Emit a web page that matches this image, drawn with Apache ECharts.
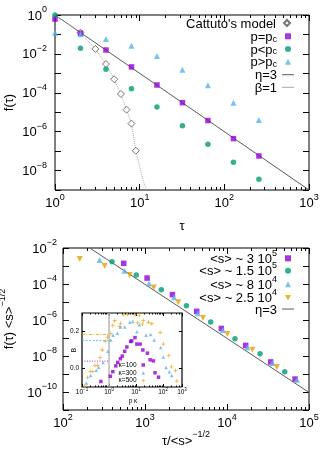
<!DOCTYPE html>
<html><head><meta charset="utf-8">
<script src="https://cdn.jsdelivr.net/npm/echarts@6.0.0/dist/echarts.min.js"></script>
<style>html,body{margin:0;padding:0;background:#fff;}#chart{width:332px;height:465px;}</style>
</head><body><div id="chart"></div>
<script>
// ---------------- DATA: top panel ----------------
const tauTop      = [1, 2, 4, 8, 16, 32, 64, 128, 256];
const fPcEqual    = [0.617, 0.115, 0.0158, 0.00214, 2.51e-4, 3.09e-5, 3.72e-6, 4.37e-7, 5.62e-8];
const fPcBelow    = [1.0, 0.0195, 0.00162, 1.62e-4, 1.86e-5, 2.04e-6, 2.24e-7, 2.69e-8, 3.55e-9];
const fPcAbove    = [0.123, 0.102, 0.0589, 0.0263, 0.00776, 0.00155, 2.45e-4, 3.09e-5, 3.98e-6];
const tauCattuto  = [2, 3, 4, 5, 6, 7, 8, 9];
const fCattuto    = [0.123, 0.018, 0.003, 5.0e-4, 8.7e-5, 1.35e-5, 2.6e-6, 1.05e-7];
const tauBeta     = [1, 2, 3, 4, 5, 6, 7, 8, 9, 10, 11, 12];
const fBeta       = [1, 0.12, 0.018, 0.003, 5.0e-4, 8.7e-5, 1.4e-5, 2.5e-6, 1.1e-7, 1.6e-8, 3.2e-9, 1.0e-9];
const tauEtaTop   = [1, 1000];
const fEtaTop     = [1, 1e-9];
// ---------------- DATA: bottom panel ----------------
const xS3e5   = [550, 1060, 2160, 4270, 8530, 16900, 34100, 67600];
const yS3e5   = [1.41e-3, 2.14e-4, 2.57e-5, 3.02e-6, 3.39e-7, 3.89e-8, 4.68e-9, 5.25e-10];
const xS15e5  = [396, 783, 1580, 3200, 6320, 12500, 25300, 50600];
const yS15e5  = [1.74e-3, 3.16e-4, 4.79e-5, 6.17e-6, 7.76e-7, 9.12e-8, 1.35e-8, 1.35e-9];
const xS8e4   = [280, 561, 1120, 2260, 4400, 8930, 17700, 35700, 71400];
const yS8e4   = [2.14e-3, 5.5e-4, 1.05e-4, 1.82e-5, 2.34e-6, 2.75e-7, 3.02e-8, 4.07e-9, 4.79e-10];
const xS25e4  = [160, 322, 650, 1280, 2550, 5090, 10100, 20400, 40400];
const yS25e4  = [2.45e-3, 1.0e-3, 3.16e-4, 6.46e-5, 9.55e-6, 1.29e-6, 1.66e-7, 2.24e-8, 2.45e-9];
const xEtaBot = [212, 1e5];
const yEtaBot = [1e-2, 9.5e-11];
// ---------------- DATA: inset ----------------
const pk100 = [0.5, 1.12, 1.38, 1.78, 2.09, 2.63, 3.09, 3.8, 4.57, 6.31, 6.92, 9.12, 10.7, 14.1, 17.8, 26.3, 33.1, 43.7, 50.1, 67.6];
const B100  = [-0.07, -0.042, -0.017, 0.014, 0.033, 0.053, 0.067, 0.093, 0.116, 0.146, 0.149, 0.167, 0.132, 0.132, 0.1, 0.083, 0.047, 0.041, -0.023, -0.047];
const pk300 = [0.145, 0.209, 0.339, 0.417, 0.603, 0.912, 1.15, 1.41, 2.04, 2.69, 3.8, 5.89, 7.59, 10.7, 13.2, 23.4, 34.7, 46.8, 81.3, 102, 129, 170, 209];
const B300  = [-0.079, -0.038, -0.009, 0.005, 0.032, 0.093, 0.154, 0.18, 0.19, 0.225, 0.225, 0.25, 0.254, 0.198, 0.237, 0.18, 0.184, 0.154, 0.114, 0.062, 0.005, -0.017, -0.038];
const pk500 = [0.126, 0.162, 0.2, 0.251, 0.302, 0.38, 0.468, 0.562, 0.724, 0.871, 1.17, 1.38, 1.62, 2.4, 2.69, 3.39, 4.9, 9.12, 11.2, 13.2, 17.0, 18.6, 28.8, 38.0, 77.6, 102, 162, 204, 288, 324];
const B500  = [-0.095, -0.049, -0.016, -0.016, 0.016, 0.017, 0.059, 0.1, 0.147, 0.17, 0.188, 0.232, 0.258, 0.226, 0.244, 0.29, 0.293, 0.29, 0.247, 0.288, 0.24, 0.26, 0.25, 0.242, 0.195, 0.132, 0.07, 0.009, -0.012, -0.068];
const levelPk = [0.1, 1];
const level100 = 0.04, level300 = 0.151, level500 = 0.184;
const vlinePk = [1, 1];
const vlineB  = [-0.1, 0.3];
// ---------------- ranges (decades) ----------------
const topXRange = [0, 3], topYRange = [-9, 0];
const botXRange = [2, 5], botYRange = [-11, -2];
const insXRange = [-1, Math.log10(500)], insYRange = [-0.1, 0.3];
const insYTicks = [0, 0.2];

// ---------------- helpers ----------------
const FONT = 'Liberation Sans, Arial, Helvetica, sans-serif';
const L = v => Math.log10(v);
const ID = v => v;
const pts = (xs, ys, fx = L, fy = L) => xs.map((x, i) => [fx(x), fy(ys[i])]);
const MINUS = '\u2212';
const expStr = e => (e < 0 ? MINUS + (-e) : String(e));

const richMain = {
  b: {fontSize: 13, fontFamily: FONT, color: '#000', lineHeight: 15, verticalAlign: 'bottom'},
  s: {fontSize: 9, fontFamily: FONT, color: '#000', lineHeight: 9, verticalAlign: 'bottom', padding: [0, 0, 8, 0]}
};
const richInset = {
  b: {fontSize: 6.5, fontFamily: FONT, color: '#000', lineHeight: 7, verticalAlign: 'bottom'},
  s: {fontSize: 4.5, fontFamily: FONT, color: '#000', lineHeight: 5, verticalAlign: 'bottom', padding: [0, 0, 3.5, 0]}
};
const richLegend = {
  m: {fontSize: 13, fontFamily: FONT, color: '#000', lineHeight: 15, verticalAlign: 'bottom'},
  sub: {fontSize: 9, fontFamily: FONT, color: '#000', lineHeight: 9, verticalAlign: 'bottom'},
  sup: {fontSize: 9, fontFamily: FONT, color: '#000', lineHeight: 9, verticalAlign: 'bottom', padding: [0, 0, 8, 0]},
  i: {fontSize: 6.5, fontFamily: FONT, color: '#000', lineHeight: 7}
};
function powLabel(v, evenOnly) {
  const e = Math.round(v);
  if (evenOnly && e % 2 !== 0) return '';
  return '{b|10}{s|' + expStr(e) + '}';
}
function minorList(r) {
  const out = [];
  for (let d = Math.floor(r[0]); d < Math.ceil(r[1]); d++)
    for (let k = 2; k <= 9; k++) { const v = d + Math.log10(k); if (v > r[0] + 1e-9 && v < r[1] - 1e-9) out.push(v); }
  return out;
}

const xAxes = [], yAxes = [];
function buildAxes(gi, xr, yr, o) {
  const ts = {color: '#000', width: 1};
  const bx = {gridIndex: gi, type: 'value', min: xr[0], max: xr[1], axisLine: {show: false, onZero: false}, splitLine: {show: false}};
  const by = {gridIndex: gi, type: 'value', min: yr[0], max: yr[1], axisLine: {show: false, onZero: false}, splitLine: {show: false}};
  const xi = xAxes.length;
  xAxes.push(Object.assign({}, bx, {position: 'bottom', interval: 1,
    axisTick: {inside: true, length: o.major, lineStyle: ts},
    axisLabel: {margin: o.xMargin, formatter: v => powLabel(v, false), rich: o.rich, showMinLabel: true, showMaxLabel: true}}));
  xAxes.push(Object.assign({}, bx, {position: 'top', interval: 1,
    axisTick: {inside: true, length: o.major, lineStyle: ts}, axisLabel: {show: false}}));
  const minors = minorList(xr);
  xAxes.push(Object.assign({}, bx, {position: 'bottom',
    axisTick: {inside: true, length: o.minor, lineStyle: ts, customValues: minors}, axisLabel: {show: false}}));
  xAxes.push(Object.assign({}, bx, {position: 'top',
    axisTick: {inside: true, length: o.minor, lineStyle: ts, customValues: minors}, axisLabel: {show: false}}));
  const yi = yAxes.length;
  if (o.yCustom) {
    yAxes.push(Object.assign({}, by, {position: 'left',
      axisTick: {inside: true, length: o.major, lineStyle: ts, customValues: o.yCustom},
      axisLabel: {margin: o.yMargin, customValues: o.yCustom, formatter: v => (Math.abs(v) < 1e-9 ? 0 : v).toFixed(1),
        fontSize: 6.5, fontFamily: FONT, color: '#000'}}));
    yAxes.push(Object.assign({}, by, {position: 'right',
      axisTick: {inside: true, length: o.major, lineStyle: ts, customValues: o.yCustom}, axisLabel: {show: false}}));
  } else {
    yAxes.push(Object.assign({}, by, {position: 'left', interval: 1,
      axisTick: {inside: true, length: o.major, lineStyle: ts},
      axisLabel: {margin: o.yMargin, formatter: v => powLabel(v, true), rich: o.rich, showMinLabel: true, showMaxLabel: true}}));
    yAxes.push(Object.assign({}, by, {position: 'right', interval: 1,
      axisTick: {inside: true, length: o.major, lineStyle: ts}, axisLabel: {show: false}}));
  }
  return {xi, yi};
}

const gTop = buildAxes(0, topXRange, topYRange, {major: 6, minor: 3, xMargin: 5, yMargin: 8, rich: richMain});
const gBot = buildAxes(1, botXRange, botYRange, {major: 6, minor: 3, xMargin: 5, yMargin: 6, rich: richMain});
const gIns = buildAxes(2, insXRange, insYRange, {major: 3, minor: 1.5, xMargin: 2, yMargin: 3, rich: richInset, yCustom: insYTicks});

const PURPLE = '#9400d3', GREEN = '#009e73', BLUE = '#56b4e9', ORANGE = '#e69f00';
const DOWN_TRI = 'path://M0,0 L10,0 L5,9 Z';
const PLUS = 'path://M4,0 L6,0 L6,4 L10,4 L10,6 L6,6 L6,10 L4,10 L4,6 L0,6 L0,4 L4,4 Z';

function scat(name, g, data, symbol, size, color, extra) {
  return Object.assign({type: 'scatter', name, xAxisIndex: g.xi, yAxisIndex: g.yi, data, symbol, symbolSize: size,
    itemStyle: {color}, clip: false, z: 4, silent: true}, extra || {});
}
function line(name, g, data, color, width, type) {
  return {type: 'line', name, xAxisIndex: g.xi, yAxisIndex: g.yi, data, symbol: 'none', showSymbol: false,
    lineStyle: {color, width, type}, itemStyle: {color}, z: 2, clip: true, silent: true};
}

const series = [
  line('eta', gTop, pts(tauEtaTop, fEtaTop), '#5a5a5a', 1, 'solid'),
  line('beta', gTop, pts(tauBeta, fBeta), '#a8a8a8', 1, 'dotted'),
  scat('cattuto', gTop, pts(tauCattuto, fCattuto), 'diamond', 7, '#fff', {itemStyle: {color: '#fff', borderColor: '#555', borderWidth: 1}}),
  scat('pc', gTop, pts(tauTop, fPcEqual), 'rect', 5.5, PURPLE),
  scat('pl', gTop, pts(tauTop, fPcBelow), 'circle', 5.5, GREEN),
  scat('pg', gTop, pts(tauTop, fPcAbove), 'triangle', 6, BLUE),

  line('etab', gBot, pts(xEtaBot, yEtaBot), '#5a5a5a', 1, 'solid'),
  scat('s3', gBot, pts(xS3e5, yS3e5), 'rect', 5.5, PURPLE),
  scat('s15', gBot, pts(xS15e5, yS15e5), 'circle', 5.5, GREEN),
  scat('s8', gBot, pts(xS8e4, yS8e4), 'triangle', 6, BLUE),
  scat('s25', gBot, pts(xS25e4, yS25e4), DOWN_TRI, 6, ORANGE),

  line('lv500', gIns, pts(levelPk, [level500, level500], L, ID), ORANGE, 0.8, [3, 1.5, 1, 1.5]),
  line('lv300', gIns, pts(levelPk, [level300, level300], L, ID), BLUE, 0.8, [2, 1.5]),
  line('lv100', gIns, pts(levelPk, [level100, level100], L, ID), PURPLE, 0.8, [1, 1.5]),
  line('vline', gIns, pts(vlinePk, vlineB, L, ID), '#b8b8b8', 1.5, 'solid'),
  scat('k100', gIns, pts(pk100, B100, L, ID), 'rect', 3.5, PURPLE),
  scat('k300', gIns, pts(pk300, B300, L, ID), 'triangle', 3.5, BLUE),
  scat('k500', gIns, pts(pk500, B500, L, ID), PLUS, 4, ORANGE)
];

const LABELS = {
  cattuto: "{m|Cattuto's model}", pc: '{m|p=p}{sub|c}', pl: '{m|p<p}{sub|c}', pg: '{m|p>p}{sub|c}',
  eta: '{m|\u03b7=3}', beta: '{m|\u03b2=1}',
  s3: '{m|<s> ~ 3 10}{sup|5}', s15: '{m|<s> ~ 1.5 10}{sup|5}', s8: '{m|<s> ~ 8 10}{sup|4}', s25: '{m|<s> ~ 2.5 10}{sup|4}',
  etab: '{m|\u03b7=3}',
  k100: '{i|\u03ba=100}', k300: '{i|\u03ba=300}', k500: '{i|\u03ba=500}'
};
// kind: 'sym' (marker), 'line' (line sample), 'small' (inset marker)
function leg(name, top, kind) {
  const small = kind === 'small', isLine = kind === 'line';
  const w = small ? 3.5 : (isLine ? 12 : 6);
  const h = small ? 3.5 : (isLine ? 1 : 6);
  const right = small ? 187 : (isLine ? 38 : 41);
  const item = isLine ? {name, icon: 'rect'} : {name};
  return {data: [item], orient: 'vertical', align: 'right', right, top,
    itemWidth: w, itemHeight: h, itemGap: 0, padding: 0, selectedMode: false,
    formatter: n => LABELS[n],
    textStyle: {rich: richLegend, fontFamily: FONT, fontSize: small ? 6.5 : 13, color: '#000',
      padding: (isLine || small) ? 0 : [0, 3, 0, 0]}};
}
const legends = [
  leg('cattuto', 17.5, 'sym'), leg('pc', 30.8, 'sym'), leg('pl', 43.5, 'sym'), leg('pg', 56.2, 'sym'),
  leg('eta', 69.2, 'line'), leg('beta', 81.8, 'line'),
  leg('s3', 248.8, 'sym'), leg('s15', 261.2, 'sym'), leg('s8', 274.8, 'sym'), leg('s25', 288.2, 'sym'), leg('etab', 303.5, 'line'),
  leg('k100', 361.5, 'small'), leg('k300', 369.5, 'small'), leg('k500', 377.2, 'small')
];

const richTitle = {
  m: {fontSize: 13, fontFamily: FONT, color: '#000', lineHeight: 15, verticalAlign: 'bottom'},
  sup: {fontSize: 9, fontFamily: FONT, color: '#000', lineHeight: 9, verticalAlign: 'bottom', padding: [0, 0, 8, 0]},
  t: {fontSize: 6.5, fontFamily: FONT, color: '#000', lineHeight: 7}
};
const graphics = [
  {type: 'text', x: 182, y: 225, style: {text: '{m|\u03c4}', rich: richTitle, align: 'center', verticalAlign: 'middle'}},
  {type: 'text', x: 8, y: 102.5, rotation: Math.PI / 2, style: {text: '{m|f(\u03c4)}', rich: richTitle, align: 'center', verticalAlign: 'middle'}},
  {type: 'text', x: 186, y: 440, style: {text: '{m|\u03c4/<s>}{sup|' + MINUS + '1/2}', rich: richTitle, align: 'center', verticalAlign: 'middle'}},
  {type: 'text', x: 8, y: 319, rotation: Math.PI / 2, style: {text: '{m|f(\u03c4) <s>}{sup|' + MINUS + '1/2}', rich: richTitle, align: 'center', verticalAlign: 'middle'}},
  {type: 'text', x: 74, y: 350, rotation: Math.PI / 2, style: {text: '{t|B}', rich: richTitle, align: 'center', verticalAlign: 'middle'}},
  {type: 'text', x: 133, y: 401, style: {text: '{t|p \u03ba}', rich: richTitle, align: 'center', verticalAlign: 'middle'}}
];

const gridBase = {show: true, borderColor: '#000', borderWidth: 1, containLabel: false, outerBoundsMode: 'none'};
const option = {
  animation: false,
  backgroundColor: '#fff',
  textStyle: {fontFamily: FONT},
  grid: [
    Object.assign({left: 55, top: 15, width: 254, height: 175, backgroundColor: 'transparent'}, gridBase),
    Object.assign({left: 63, top: 248, width: 246, height: 162, backgroundColor: 'transparent'}, gridBase),
    Object.assign({left: 82, top: 313, width: 100, height: 74, backgroundColor: '#fff'}, gridBase, {borderWidth: 1.2})
  ],
  xAxis: xAxes,
  yAxis: yAxes,
  legend: legends,
  graphic: graphics,
  series
};
const chart = echarts.init(document.getElementById('chart'), null, {renderer: 'canvas'});
chart.setOption(option);
</script></body></html>
